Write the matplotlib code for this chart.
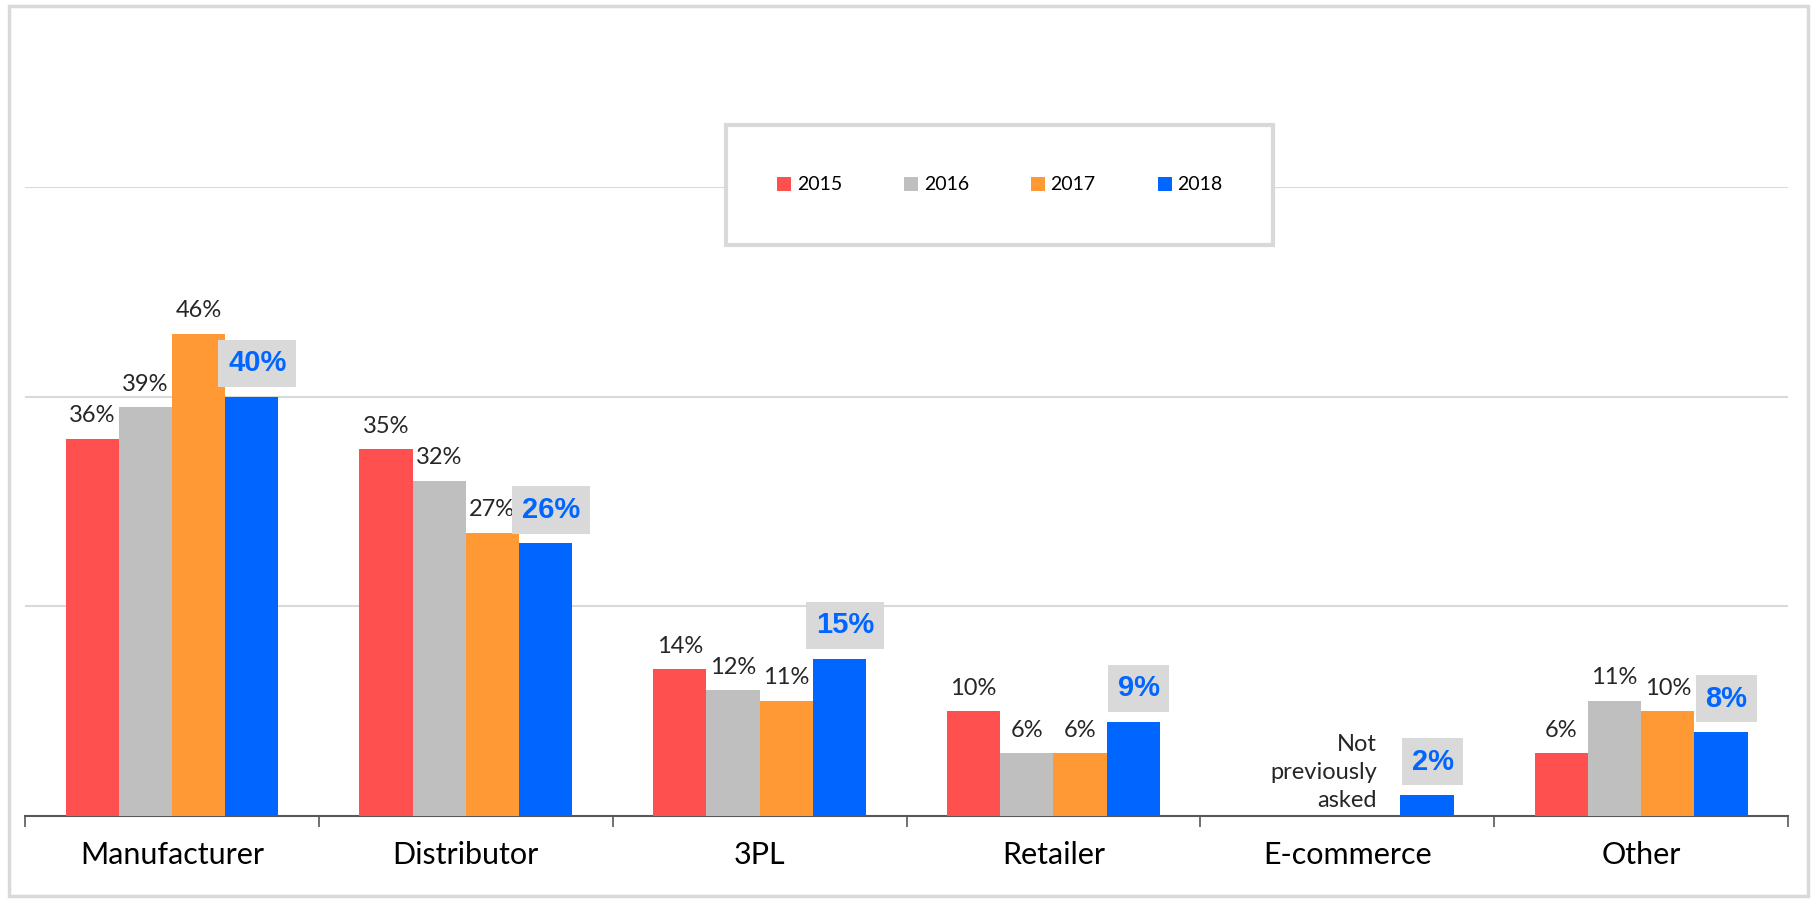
import numpy as np
import matplotlib
matplotlib.use("Agg")
import matplotlib.pyplot as plt
from matplotlib.patches import Rectangle

categorias = ["Manufacturer", "Distributor", "3PL", "Retailer", "E-commerce", "Other"]
anios = ["2015", "2016", "2017", "2018"]
valores_2015 = [36, 35, 14, 10, np.nan, 6]
valores_2016 = [39, 32, 12, 6, np.nan, 11]
valores_2017 = [46, 27, 11, 6, np.nan, 10]
valores_2018 = [40, 26, 15, 9, 2, 8]
nota_ecommerce = "Not\npreviously\nasked"

colores = ["#FF5050", "#BFBFBF", "#FF9933", "#0066FF"]
GRIS_CLARO = "#D9D9D9"

plt.rcParams["font.family"] = ["Lato", "DejaVu Sans"]

fig = plt.figure(figsize=(18.14, 8.99), dpi=100)
ax = fig.add_axes([0.0138, 0.0923, 0.9719, 0.6997])

x = np.arange(len(categorias))
ancho = 0.181
series = [valores_2015, valores_2016, valores_2017, valores_2018]

for i, (serie, color) in enumerate(zip(series, colores)):
    pos = x + (i - 1.5) * ancho
    ax.bar(pos, serie, width=ancho, color=color, label=anios[i], zorder=3)
    for xp, v in zip(pos, serie):
        if np.isnan(v):
            continue
        if i < 3:
            ax.annotate(f"{v:.0f}%", (xp, v), xytext=(0, 9), textcoords="offset points",
                        ha="center", va="bottom", fontsize=17, color="#262626")
        else:
            ax.annotate(f"{v:.0f}%", (xp, v), xytext=(4, 14), textcoords="offset points",
                        ha="center", va="bottom", fontsize=21, fontweight="bold",
                        color="#0066FF", family="Liberation Sans",
                        bbox=dict(boxstyle="square,pad=0.33", fc=GRIS_CLARO, ec="none"))

# nota en E-commerce
idx = categorias.index("E-commerce")
ax.text(x[idx] + 0.5 * ancho + 0.01, 0.5, nota_ecommerce, ha="right", va="bottom",
        fontsize=17, color="#262626", linespacing=1.4)

ax.set_xlim(-0.5, len(categorias) - 0.5)
ax.set_ylim(0, 60)
ax.set_yticks([20, 40, 60])
ax.yaxis.grid(True, color=GRIS_CLARO, linewidth=1.5, zorder=0)
ax.set_axisbelow(True)
ax.tick_params(axis="y", left=False, labelleft=False)

ax.set_xticks(x)
ax.set_xticklabels(categorias, fontsize=22, color="black")
ax.tick_params(axis="x", which="major", length=0, pad=18)
ax.set_xticks(np.arange(-0.5, len(categorias)), minor=True)
ax.tick_params(axis="x", which="minor", length=8, width=1.2, color="#595959", direction="out")

for lado in ["left", "right", "top"]:
    ax.spines[lado].set_visible(False)
ax.spines["bottom"].set_color("#595959")
ax.spines["bottom"].set_linewidth(1.5)

# caja de la leyenda
caja = Rectangle((726 / 1814, 1 - 245 / 899), (1273 - 726) / 1814, (245 - 125) / 899,
                 transform=fig.transFigure, facecolor="white", edgecolor=GRIS_CLARO,
                 linewidth=3, zorder=5)
fig.patches.append(caja)
leg = fig.legend(loc="center", bbox_to_anchor=(1000 / 1814, 1 - 185 / 899), ncol=4,
                 frameon=False, fontsize=14, handlelength=0.7, handleheight=0.7,
                 handletextpad=0.3, columnspacing=3.2)
leg.set_zorder(6)

# borde exterior
borde = Rectangle((9 / 1814, 3 / 899), (1808 - 9) / 1814, (893 - 3) / 899,
                  transform=fig.transFigure, facecolor="none", edgecolor=GRIS_CLARO,
                  linewidth=2.5, zorder=0)
fig.patches.append(borde)

fig.savefig("out.png", dpi=100)
